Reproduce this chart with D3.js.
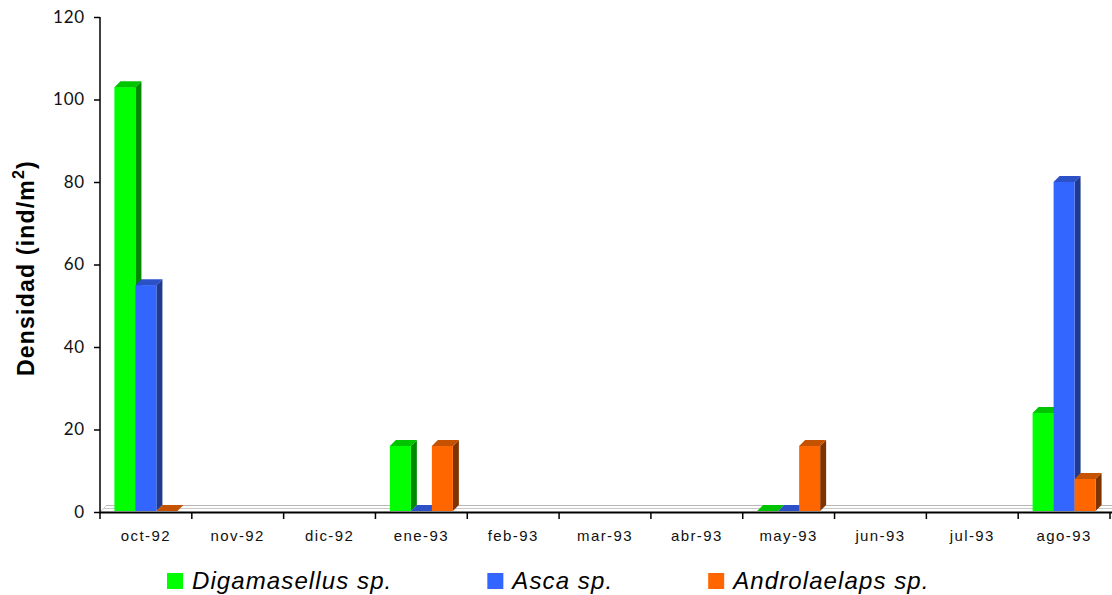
<!DOCTYPE html>
<html>
<head>
<meta charset="utf-8">
<script src="https://cdn.jsdelivr.net/npm/d3@7/dist/d3.min.js"></script>
<style>
  html, body { margin: 0; padding: 0; background: #fff; }
  svg { display: block; }
</style>
</head>
<body>
<svg id="chart" width="1112" height="595"></svg>
<script>
// Monthly mite density, Oct 1992 – Aug 1993
const months = ["oct-92", "nov-92", "dic-92", "ene-93", "feb-93", "mar-93",
                "abr-93", "may-93", "jun-93", "jul-93", "ago-93"];
const seriesNames = ["Digamasellus sp.", "Asca sp.", "Androlaelaps sp."];
// null = no sample drawn for that month
const digamasellus = [103, null, null, 16, null, null, null, 0, null, null, 24];
const asca         = [55,  null, null, 0,  null, null, null, 0, null, null, 80];
const androlaelaps = [0,   null, null, 16, null, null, null, 16, null, null, 8];
const yTicks = [0, 20, 40, 60, 80, 100, 120];

const seriesValues = [digamasellus, asca, androlaelaps];
// front, side, top shades for each series
const shades = [
  { front: "#00ff00", side: "#008a00", top: "#00c400" },
  { front: "#3366ff", side: "#1f3a8f", top: "#2b50c8" },
  { front: "#ff6600", side: "#7f3300", top: "#c45200" }
];

const svg = d3.select("#chart");
const plotLeft = 100, plotRight = 1110, plotTop = 17, plotBottom = 512;
const depthX = 6, depthY = 6;

const y = d3.scaleLinear().domain([0, 120]).range([plotBottom, plotTop]);
const x0 = d3.scaleBand().domain(months).range([plotLeft, plotRight]).padding(0);
const x1 = d3.scaleBand().domain(seriesNames).range([0, x0.bandwidth()])
  .paddingInner(0).paddingOuter(0.686);

// floor of the 3D plot area
svg.append("line").attr("x1", plotLeft + depthX).attr("x2", plotRight + 2)
  .attr("y1", plotBottom - depthY - 0.5).attr("y2", plotBottom - depthY - 0.5)
  .attr("stroke", "#b8b8b8").attr("stroke-width", 1);
svg.append("line").attr("x1", plotLeft + depthX / 2).attr("x2", plotRight + 2)
  .attr("y1", plotBottom - 3.5).attr("y2", plotBottom - 3.5)
  .attr("stroke", "#c8c8c8").attr("stroke-width", 1);
svg.append("line").attr("x1", plotLeft).attr("x2", plotLeft + depthX)
  .attr("y1", plotBottom).attr("y2", plotBottom - depthY)
  .attr("stroke", "#c8c8c8").attr("stroke-width", 1);

// bars, drawn month by month, left to right so the 3D faces overlap correctly
const barData = [];
months.forEach((m, mi) => {
  seriesNames.forEach((s, si) => {
    const v = seriesValues[si][mi];
    if (v !== null) barData.push({ month: m, series: s, si, value: v });
  });
});

const bars = svg.append("g").selectAll("g.bar").data(barData).join("g").attr("class", "bar");
bars.each(function (d) {
  const g = d3.select(this);
  const bx = x0(d.month) + x1(d.series);
  const bw = x1.bandwidth();
  const yb = y(0) - 1;
  const yt = Math.min(y(d.value), yb);
  const c = shades[d.si];
  if (yb - yt > 0) {
    // side face
    g.append("path")
      .attr("d", `M${bx + bw},${yt} L${bx + bw + depthX},${yt - depthY} L${bx + bw + depthX},${yb - depthY} L${bx + bw},${yb} Z`)
      .attr("fill", c.side);
    // front face
    g.append("rect").attr("x", bx).attr("y", yt).attr("width", bw).attr("height", yb - yt)
      .attr("fill", c.front);
  }
  // top face
  g.append("path")
    .attr("d", `M${bx},${yt} L${bx + depthX},${yt - depthY} L${bx + bw + depthX},${yt - depthY} L${bx + bw},${yt} Z`)
    .attr("fill", c.top);
});

// y axis
const yAxis = d3.axisLeft(y).tickValues(yTicks).tickSize(6).tickPadding(9).tickSizeOuter(0);
const gy = svg.append("g").attr("transform", `translate(${plotLeft},0)`).call(yAxis);
gy.select(".domain").attr("stroke", "#000").attr("stroke-width", 1.5)
  .attr("d", `M0,${plotTop}V${plotBottom + 7}`);
gy.selectAll(".tick line").attr("stroke", "#000").attr("stroke-width", 1.5);
gy.selectAll(".tick text")
  .attr("font-family", "Lato, 'Open Sans', sans-serif")
  .attr("font-size", 17).attr("letter-spacing", 0.8).attr("fill", "#111");

// x axis with ticks at the category boundaries
svg.append("line").attr("x1", plotLeft).attr("x2", plotRight + 2)
  .attr("y1", plotBottom + 0.5).attr("y2", plotBottom + 0.5)
  .attr("stroke", "#000").attr("stroke-width", 2);
const boundaries = months.map(m => x0(m)).concat([x0(months[months.length - 1]) + x0.bandwidth()]);
svg.append("g").selectAll("line").data(boundaries.slice(1)).join("line")
  .attr("x1", d => d).attr("x2", d => d)
  .attr("y1", plotBottom).attr("y2", plotBottom + 7)
  .attr("stroke", "#000").attr("stroke-width", 1.5);
svg.append("g").selectAll("text").data(months).join("text")
  .attr("x", d => x0(d) + x0.bandwidth() / 2)
  .attr("y", 541)
  .attr("text-anchor", "middle")
  .attr("font-family", "'Liberation Sans', Arial, sans-serif")
  .attr("font-size", 15).attr("letter-spacing", 1.4).attr("fill", "#111")
  .text(d => d);

// y axis title
const title = svg.append("text")
  .attr("transform", "translate(34,268) rotate(-90)")
  .attr("text-anchor", "middle")
  .attr("font-family", "'Liberation Sans', Arial, sans-serif")
  .attr("font-weight", "bold").attr("font-size", 23).attr("letter-spacing", 1.2)
  .attr("fill", "#000");
title.append("tspan").text("Densidad (ind/m");
title.append("tspan").attr("dy", -10).attr("font-size", 16).text("2");
title.append("tspan").attr("dy", 10).text(")");

// legend
const legend = svg.append("g");
let lx = 167;
seriesNames.forEach((s, i) => {
  legend.append("rect").attr("x", lx).attr("y", 573).attr("width", 16).attr("height", 16)
    .attr("fill", shades[i].front);
  const t = legend.append("text")
    .attr("x", lx + 25).attr("y", 589)
    .attr("font-family", "'Liberation Sans', Arial, sans-serif")
    .attr("font-style", "italic").attr("font-size", 24).attr("letter-spacing", 1.1)
    .attr("fill", "#000").text(s);
  lx = lx + 25 + t.node().getComputedTextLength() + 95;
});
</script>
</body>
</html>
